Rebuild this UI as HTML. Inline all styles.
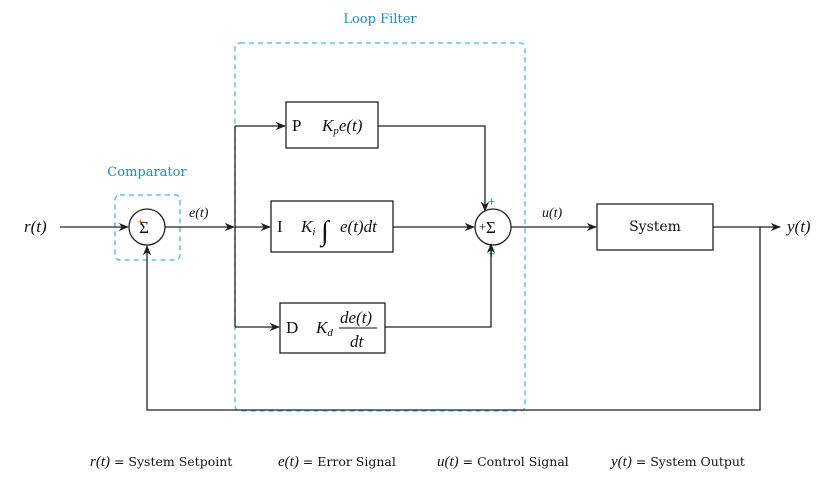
<!DOCTYPE html>
<html><head><style>
body{margin:0;background:#fff}
svg{display:block;font-family:"Liberation Serif",serif}
.it{font-style:italic}
.dj{font-family:"DejaVu Serif",serif}
</style></head><body>
<svg width="828" height="484" viewBox="0 0 828 484" xmlns="http://www.w3.org/2000/svg">
<defs><marker id="a" viewBox="0 0 10 10" refX="9" refY="5" markerWidth="8" markerHeight="8" orient="auto"><path d="M0,1 L10,5 L0,9 L3,5z" fill="#222"/></marker></defs>
<g fill="none" stroke="#4ab8dd" stroke-width="1.3" stroke-dasharray="5,4">
<rect x="115" y="195" width="65" height="65" rx="5"/>
<rect x="235" y="43" width="290" height="368" rx="5"/>
</g>
<text x="380" y="23" fill="#1a8ecb" font-size="13" class="dj" text-anchor="middle">Loop Filter</text>
<text x="147" y="176" fill="#1a8ecb" font-size="13" class="dj" text-anchor="middle">Comparator</text>
<g stroke="#222" stroke-width="1.3" fill="none">
<circle cx="147" cy="227" r="18"/>
<circle cx="493" cy="227" r="18"/>
<rect x="286" y="102" width="92" height="46"/>
<rect x="271" y="201" width="122" height="51"/>
<rect x="280" y="303" width="105" height="50"/>
<rect x="597" y="204" width="116" height="46"/>
<line x1="60" y1="227" x2="128" y2="227" marker-end="url(#a)"/>
<line x1="165" y1="227" x2="234" y2="227" marker-end="url(#a)"/>
<line x1="235" y1="227" x2="270" y2="227" marker-end="url(#a)"/>
<polyline points="235,126 235,327"/>
<line x1="235" y1="126" x2="285" y2="126" marker-end="url(#a)"/>
<line x1="235" y1="327" x2="279" y2="327" marker-end="url(#a)"/>
<polyline points="378,126 485,126 485,211" marker-end="url(#a)"/>
<line x1="393" y1="227" x2="474" y2="227" marker-end="url(#a)"/>
<polyline points="385,327 491,327 491,244" marker-end="url(#a)"/>
<line x1="511" y1="227" x2="596" y2="227" marker-end="url(#a)"/>
<line x1="713" y1="227" x2="780" y2="227" marker-end="url(#a)"/>
<polyline points="760,227 760,410 147,410 147,246" marker-end="url(#a)"/>
</g>
<g font-size="17" fill="#111">
<text x="24" y="232" class="it">r(t)</text>
<text x="787" y="232" class="it">y(t)</text>
<text x="139" y="233">Σ</text>
<text x="486" y="233">Σ</text>
<text x="292" y="131">P</text>
<text x="322" y="131" class="it">K<tspan font-size="11" dy="3">p</tspan><tspan dy="-3">e(t)</tspan></text>
<text x="277" y="232">I</text>
<text x="301" y="232" class="it">K<tspan font-size="11" dy="3">i</tspan></text>
<text x="321" y="240" font-size="28">∫</text>
<text x="340" y="232" class="it">e(t)dt</text>
<text x="286" y="333">D</text>
<text x="316" y="333" class="it">K<tspan font-size="11" dy="3">d</tspan></text>
<text x="340" y="323" class="it">de(t)</text>
<line x1="339" y1="328" x2="377" y2="328" stroke="#111" stroke-width="1"/>
<text x="350" y="347" class="it">dt</text>
<text x="655" y="231" text-anchor="middle" class="dj" font-size="14">System</text>
</g>
<g font-size="13" fill="#111">
<text x="137" y="226" fill="#c07000">+</text>
<text x="479" y="231">+</text>
<text x="488" y="206" fill="#006040">+</text>
<text x="488" y="258" fill="#006040">+</text>
<text x="189" y="217" class="it" font-size="14">e(t)</text>
<text x="542" y="217" class="it" font-size="14">u(t)</text>
</g>
<g font-size="12.5" fill="#111" class="dj">
<text x="90" y="466"><tspan class="it" font-family="Liberation Serif" font-size="15">r(t)</tspan> = System Setpoint</text>
<text x="278" y="466"><tspan class="it" font-family="Liberation Serif" font-size="15">e(t)</tspan> = Error Signal</text>
<text x="437" y="466"><tspan class="it" font-family="Liberation Serif" font-size="15">u(t)</tspan> = Control Signal</text>
<text x="611" y="466"><tspan class="it" font-family="Liberation Serif" font-size="15">y(t)</tspan> = System Output</text>
</g>
</svg>
</body></html>
